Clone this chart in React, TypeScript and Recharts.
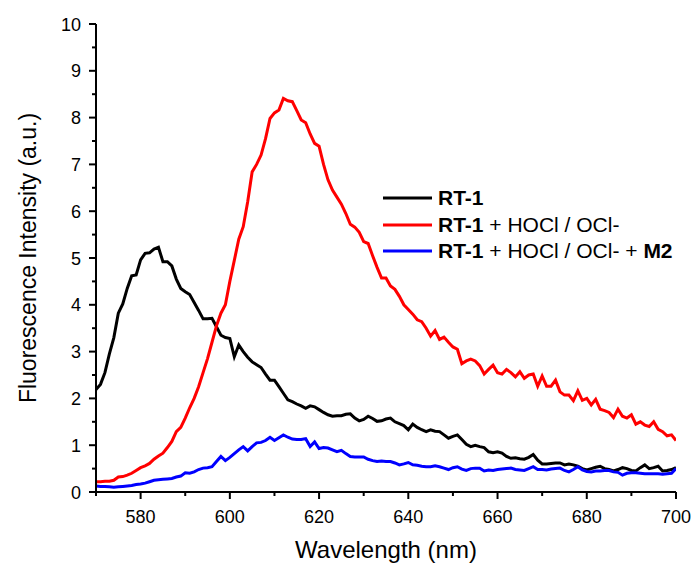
import React from 'react';
import { LineChart, Line, XAxis, YAxis } from 'recharts';

const wavelengths = [
  570, 571, 572, 573, 574, 575, 576, 577, 578, 579,
  580, 581, 582, 583, 584, 585, 586, 587, 588, 589,
  590, 591, 592, 593, 594, 595, 596, 597, 598, 599,
  600, 601, 602, 603, 604, 605, 606, 607, 608, 609,
  610, 611, 612, 613, 614, 615, 616, 617, 618, 619,
  620, 621, 622, 623, 624, 625, 626, 627, 628, 629,
  630, 631, 632, 633, 634, 635, 636, 637, 638, 639,
  640, 641, 642, 643, 644, 645, 646, 647, 648, 649,
  650, 651, 652, 653, 654, 655, 656, 657, 658, 659,
  660, 661, 662, 663, 664, 665, 666, 667, 668, 669,
  670, 671, 672, 673, 674, 675, 676, 677, 678, 679,
  680, 681, 682, 683, 684, 685, 686, 687, 688, 689,
  690, 691, 692, 693, 694, 695, 696, 697, 698, 699,
  700,
];

const rt1 = [
  2.19, 2.30, 2.55, 2.95, 3.30, 3.82, 4.02, 4.35, 4.62, 4.64,
  4.96, 5.10, 5.11, 5.19, 5.23, 4.92, 4.92, 4.83, 4.55, 4.35,
  4.28, 4.22, 4.05, 3.88, 3.70, 3.70, 3.71, 3.53, 3.35, 3.30,
  3.28, 2.89, 3.14, 3.00, 2.88, 2.78, 2.72, 2.66, 2.52, 2.39,
  2.39, 2.25, 2.11, 1.97, 1.93, 1.88, 1.84, 1.79, 1.84, 1.82,
  1.76, 1.70, 1.65, 1.62, 1.63, 1.63, 1.66, 1.67, 1.58, 1.52,
  1.55, 1.62, 1.57, 1.51, 1.52, 1.56, 1.58, 1.50, 1.46, 1.42,
  1.33, 1.45, 1.38, 1.33, 1.29, 1.33, 1.30, 1.29, 1.22, 1.15,
  1.19, 1.22, 1.12, 1.02, 0.97, 1.00, 0.97, 0.95, 0.86, 0.84,
  0.86, 0.83, 0.76, 0.72, 0.73, 0.71, 0.70, 0.74, 0.80, 0.68,
  0.60, 0.60, 0.61, 0.62, 0.62, 0.58, 0.60, 0.58, 0.55, 0.50,
  0.47, 0.50, 0.53, 0.55, 0.50, 0.48, 0.45, 0.48, 0.52, 0.50,
  0.46, 0.45, 0.52, 0.58, 0.50, 0.52, 0.55, 0.45, 0.46, 0.48,
  0.52,
];

const rt1Hocl = [
  0.22, 0.22, 0.23, 0.23, 0.25, 0.32, 0.33, 0.36, 0.40, 0.46,
  0.52, 0.56, 0.61, 0.70, 0.77, 0.83, 0.95, 1.08, 1.29, 1.38,
  1.58, 1.80, 2.00, 2.25, 2.55, 2.85, 3.20, 3.55, 3.82, 4.00,
  4.50, 4.95, 5.40, 5.67, 6.20, 6.84, 7.00, 7.20, 7.55, 7.98,
  8.10, 8.16, 8.41, 8.36, 8.34, 8.15, 7.95, 7.89, 7.65, 7.45,
  7.39, 7.00, 6.67, 6.45, 6.30, 6.15, 5.95, 5.72, 5.66, 5.55,
  5.35, 5.31, 5.05, 4.80, 4.57, 4.57, 4.40, 4.33, 4.18, 4.00,
  3.90, 3.80, 3.68, 3.64, 3.50, 3.33, 3.45, 3.26, 3.31, 3.20,
  3.10, 3.05, 2.74, 2.80, 2.84, 2.80, 2.70, 2.52, 2.62, 2.71,
  2.55, 2.52, 2.62, 2.55, 2.46, 2.57, 2.43, 2.50, 2.52, 2.26,
  2.48, 2.26, 2.26, 2.39, 2.14, 2.07, 2.07, 1.95, 2.16, 1.96,
  2.00, 1.86, 1.98, 1.77, 1.74, 1.70, 1.59, 1.77, 1.62, 1.58,
  1.65, 1.45, 1.50, 1.43, 1.40, 1.50, 1.34, 1.29, 1.20, 1.22,
  1.10,
];

const rt1HoclM2 = [
  0.13, 0.12, 0.12, 0.11, 0.10, 0.11, 0.12, 0.13, 0.14, 0.16,
  0.17, 0.19, 0.22, 0.25, 0.26, 0.27, 0.28, 0.29, 0.32, 0.34,
  0.41, 0.40, 0.43, 0.48, 0.51, 0.52, 0.54, 0.65, 0.76, 0.67,
  0.74, 0.82, 0.90, 0.97, 0.88, 0.97, 1.05, 1.06, 1.10, 1.17,
  1.10, 1.16, 1.22, 1.17, 1.13, 1.12, 1.12, 1.14, 0.97, 1.07,
  0.93, 0.95, 0.94, 0.90, 0.86, 0.89, 0.82, 0.76, 0.75, 0.75,
  0.75, 0.70, 0.67, 0.65, 0.66, 0.65, 0.65, 0.62, 0.58, 0.60,
  0.63, 0.58, 0.57, 0.55, 0.54, 0.54, 0.56, 0.54, 0.51, 0.48,
  0.52, 0.54, 0.49, 0.46, 0.50, 0.51, 0.51, 0.45, 0.47, 0.46,
  0.48, 0.49, 0.50, 0.51, 0.48, 0.47, 0.46, 0.50, 0.54, 0.48,
  0.48, 0.47, 0.49, 0.50, 0.51, 0.46, 0.43, 0.48, 0.54, 0.47,
  0.44, 0.43, 0.45, 0.45, 0.46, 0.46, 0.43, 0.42, 0.36, 0.40,
  0.41, 0.41, 0.40, 0.39, 0.39, 0.39, 0.39, 0.38, 0.39, 0.40,
  0.50,
];

const xTicks = [570, 580, 590, 600, 610, 620, 630, 640, 650, 660, 670, 680, 690, 700];
const xMajor = [580, 600, 620, 640, 660, 680, 700];
const yTicks = [0, 0.5, 1, 1.5, 2, 2.5, 3, 3.5, 4, 4.5, 5, 5.5, 6, 6.5, 7, 7.5, 8, 8.5, 9, 9.5, 10];
const yMajor = [0, 1, 2, 3, 4, 5, 6, 7, 8, 9, 10];

const data = wavelengths.map((w, i) => ({
  w,
  a: rt1[i],
  b: rt1Hocl[i],
  c: rt1HoclM2[i],
}));

const FONT = '"Liberation Sans", Arial, sans-serif';

const XTick = (props: any) => {
  const { x, y, payload } = props;
  const major = xMajor.includes(payload.value);
  return (
    <g>
      <line x1={x} x2={x} y1={y} y2={y + (major ? 7 : 4)} stroke="#000" strokeWidth={2} />
      {major && (
        <text x={x} y={y + 31} textAnchor="middle" fontSize={18} fill="#000" fontFamily={FONT}>
          {payload.value}
        </text>
      )}
    </g>
  );
};

const YTick = (props: any) => {
  const { x, y, payload } = props;
  const major = yMajor.includes(payload.value);
  return (
    <g>
      <line x1={x - (major ? 7 : 4)} x2={x} y1={y} y2={y} stroke="#000" strokeWidth={2} />
      {major && (
        <text x={x - 15} y={y + 6.5} textAnchor="end" fontSize={18} fill="#000" fontFamily={FONT}>
          {payload.value}
        </text>
      )}
    </g>
  );
};

const legendItems = [
  { color: '#000000', parts: [{ t: 'RT-1', b: true }] },
  { color: '#ff0000', parts: [{ t: 'RT-1', b: true }, { t: ' + HOCl / OCl-', b: false }] },
  {
    color: '#0000ff',
    parts: [
      { t: 'RT-1', b: true },
      { t: ' + HOCl / OCl- + ', b: false },
      { t: 'M2', b: true },
    ],
  },
];

export default function App() {
  return (
    <div style={{ position: 'absolute', left: 0, top: 0, width: 694, height: 565, background: '#fff' }}>
      <LineChart
        width={694}
        height={565}
        data={data}
        margin={{ top: 24, right: 18, bottom: 0, left: 0 }}
      >
        <XAxis
          dataKey="w"
          type="number"
          domain={[570, 700]}
          ticks={xTicks}
          interval={0}
          height={73}
          tickSize={0}
          tickMargin={0}
          tickLine={false}
          axisLine={{ stroke: '#000', strokeWidth: 2 }}
          tick={<XTick />}
          allowDataOverflow
          label={{
            value: 'Wavelength (nm)',
            position: 'insideBottom',
            offset: 7,
            style: { fontSize: 24, fill: '#000', fontFamily: FONT },
          }}
        />
        <YAxis
          type="number"
          domain={[0, 10]}
          ticks={yTicks}
          interval={0}
          width={96}
          tickSize={0}
          tickMargin={0}
          tickLine={false}
          axisLine={{ stroke: '#000', strokeWidth: 2 }}
          tick={<YTick />}
          allowDataOverflow
          label={{
            value: 'Fluorescence Intensity (a.u.)',
            angle: -90,
            position: 'insideLeft',
            offset: 28,
            style: { fontSize: 23, fill: '#000', fontFamily: FONT, textAnchor: 'middle' },
          }}
        />
        <Line type="linear" dataKey="a" stroke="#000000" strokeWidth={3} dot={false} isAnimationActive={false} />
        <Line type="linear" dataKey="b" stroke="#ff0000" strokeWidth={3} dot={false} isAnimationActive={false} />
        <Line type="linear" dataKey="c" stroke="#0000ff" strokeWidth={3} dot={false} isAnimationActive={false} />
      </LineChart>
      <div style={{ position: 'absolute', left: 383, top: 185, fontFamily: FONT, fontSize: 21, color: '#000' }}>
        {legendItems.map((it, i) => (
          <div key={i} style={{ display: 'flex', alignItems: 'center', height: 26.5, whiteSpace: 'pre' }}>
            <svg width={49} height={6} style={{ marginRight: 6 }}>
              <line x1={0} x2={49} y1={3} y2={3} stroke={it.color} strokeWidth={3} />
            </svg>
            <span>
              {it.parts.map((p, j) => (
                <span key={j} style={{ fontWeight: p.b ? 'bold' : 'normal' }}>{p.t}</span>
              ))}
            </span>
          </div>
        ))}
      </div>
    </div>
  );
}
